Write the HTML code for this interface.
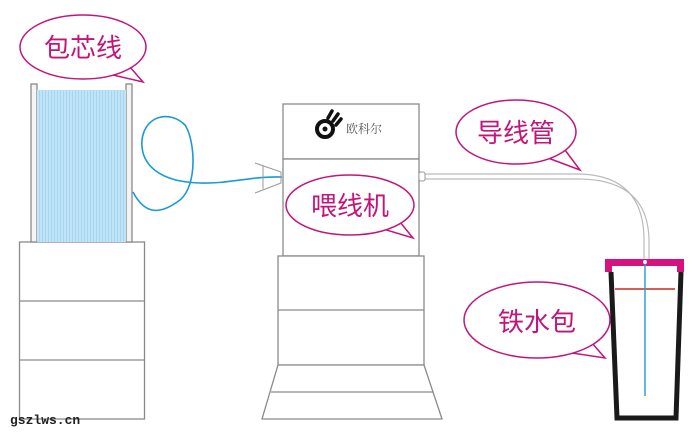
<!DOCTYPE html>
<html><head><meta charset="utf-8"><style>body{margin:0;background:#fff}svg{display:block}</style></head><body>
<svg width="700" height="434" viewBox="0 0 700 434" xmlns="http://www.w3.org/2000/svg">
<defs><pattern id="st" width="3" height="10" patternUnits="userSpaceOnUse"><rect width="3" height="10" fill="#bfe3f7"/><rect width="1" height="10" fill="#a8d6f1"/></pattern></defs>
<g fill="#fff" stroke="#8a8a8a" stroke-width="1.3">
<rect x="19.5" y="242" width="125" height="177"/>
<line x1="19.5" y1="301" x2="144.5" y2="301"/><line x1="19.5" y1="360" x2="144.5" y2="360"/>
<rect x="31" y="84" width="6" height="158" fill="#f4f4f4"/>
<rect x="126" y="84" width="6" height="158" fill="#f4f4f4"/>
</g>
<rect x="37" y="90" width="89" height="152" fill="url(#st)"/>
<path d="M133 192 C145 215,160 215,180 200 C198 185,195 140,185 125 C170 110,145 115,142 140 C140 165,160 182,200 183 C230 184,250 176,282 177" fill="none" stroke="#1a9ad6" stroke-width="1.6"/>
<path d="M255 163 L281 172 L281 183 L255 193 M263 166 L263 189" fill="none" stroke="#999" stroke-width="1"/>
<g fill="#fff" stroke="#8a8a8a" stroke-width="1.3">
<rect x="283" y="104" width="136" height="55"/>
<rect x="283" y="159" width="136" height="97"/>
<rect x="278" y="256" width="146" height="109"/>
<line x1="278" y1="310" x2="424" y2="310"/>
<path d="M278 365 L424 365 L442 419 L262 419 Z"/>
<line x1="271" y1="392" x2="433" y2="392"/>
</g>
<path d="M419 174 L580 174 Q644 176 644 240 L644 262 M419 179 L580 179 Q648 180 649 240 L649 262" fill="none" stroke="#bbb" stroke-width="1.2"/>
<rect x="419" y="172" width="6" height="9" rx="2" fill="#fff" stroke="#999"/>
<path d="M611 272 L617 418 L676 418 L681 272" fill="none" stroke="#1a1a1a" stroke-width="5"/>
<rect x="605" y="259" width="79" height="7" fill="#d4137f"/>
<rect x="605" y="259" width="7" height="13" fill="#d4137f"/><rect x="677" y="259" width="7" height="13" fill="#d4137f"/>
<line x1="615" y1="289" x2="675" y2="289" stroke="#c8281e" stroke-width="1.5"/>
<line x1="645" y1="264" x2="645" y2="396" stroke="#2aa3d4" stroke-width="1.5"/>
<circle cx="645" cy="262" r="2" fill="#fff"/>
<g fill="#fff" stroke="#c2157a" stroke-width="1.5">
<polygon points="113,75 130,67 143,82"/><ellipse cx="83" cy="47" rx="63" ry="32"/>
<polygon points="383,229 400,222 413,238"/><ellipse cx="350" cy="205" rx="64" ry="30"/>
<polygon points="548,158 565,150 580,170"/><ellipse cx="516" cy="132" rx="60" ry="32"/>
<polygon points="572,353 592,343 605,358"/><ellipse cx="537" cy="320" rx="73" ry="38"/>
</g>
<g font-family="Liberation Sans,'Noto Sans CJK SC',sans-serif" fill="#c2157a" font-size="26" text-anchor="middle">
<text x="83" y="57">包芯线</text>
<text x="350" y="215">喂线机</text>
<text x="516" y="142">导线管</text>
<text x="537" y="331">铁水包</text>
</g>
<g><circle cx="325" cy="129" r="8" fill="none" stroke="#111" stroke-width="4"/><circle cx="325" cy="129" r="2.5" fill="#111"/><path d="M328 118 L332 111 M333 121 L338 114 M336 125 L341 119" stroke="#111" stroke-width="3.5" stroke-linecap="round"/></g>
<text x="346" y="133" font-family="'Noto Serif CJK SC',serif" font-size="12" fill="#555">欧科尔</text>
<text x="10" y="424" font-family="Liberation Mono,monospace" font-size="13" font-weight="bold" fill="#222">gszlws.cn</text>
</svg>
</body></html>
